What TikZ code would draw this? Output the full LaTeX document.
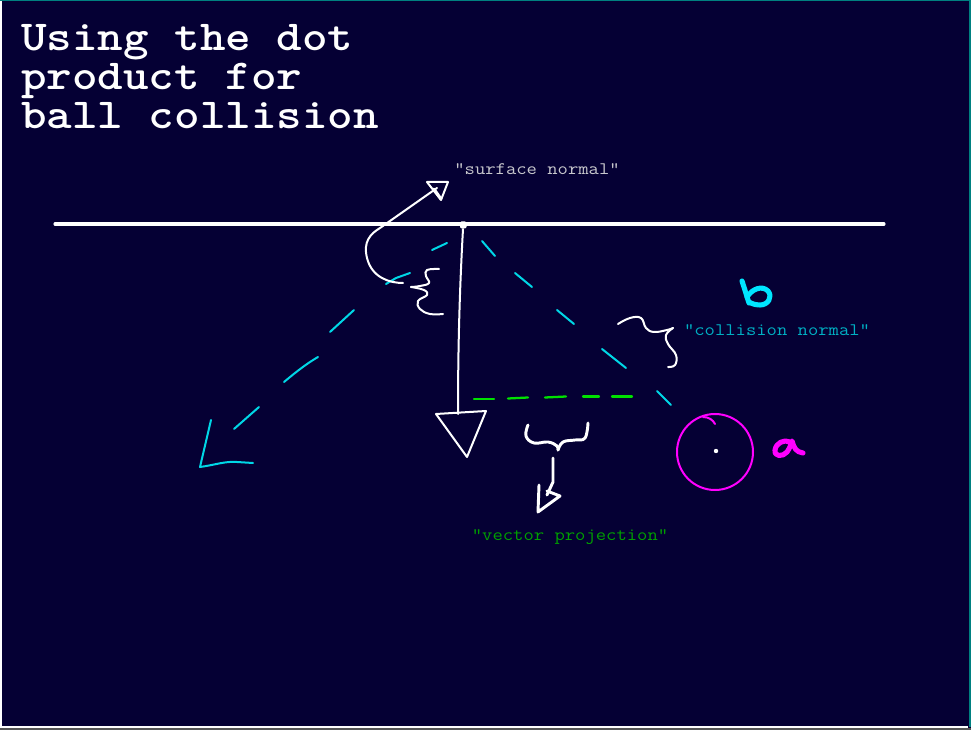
\documentclass[tikz,border=0pt]{standalone}
\usepackage{fontspec}
\usepackage{graphicx}
\definecolor{bgnavy}{RGB}{5,0,52}
\definecolor{tealedge}{RGB}{0,128,128}
\definecolor{greyedge}{RGB}{85,85,85}
\definecolor{dashcyan}{RGB}{0,215,230}
\definecolor{bcyan}{RGB}{0,230,255}
\definecolor{cntext}{RGB}{0,175,195}
\definecolor{dashgreen}{RGB}{0,225,0}
\definecolor{vptext}{RGB}{0,160,0}
\definecolor{sntext}{RGB}{200,200,205}
\definecolor{mag}{RGB}{255,0,255}
\newcommand{\widemono}[1]{\scalebox{1.14}[1]{#1}}
\begin{document}
\begin{tikzpicture}[x=0.75pt,y=-0.75pt,
  sketch/.style={draw=white,line width=1.5pt,line cap=round,line join=round},
  cdash/.style={draw=dashcyan,line width=1.5pt,line cap=round},
  gdash/.style={draw=dashgreen,line width=1.7pt,line cap=round},
  ttl/.style={anchor=north west,inner sep=0pt,text=white,align=left,font=\ttfamily\bfseries\fontsize{32}{29.2}\selectfont},
  lbl/.style={inner sep=0pt,font=\ttfamily\fontsize{13.2}{14}\selectfont}]
\useasboundingbox (0,0) rectangle (971,730);
% background and frame
\fill[bgnavy] (0,0) rectangle (971,730);
\fill[greyedge] (0,727.5) rectangle (971,730);
\draw[white,line width=0.9pt] (1,0) -- (1,727) -- (968,727);
\draw[tealedge,line width=0.9pt] (0,0.5) -- (971,0.5);
\draw[tealedge,line width=1.5pt] (969.5,0) -- (969.5,727);
% title
\node[ttl] (title) at (21,24) {\widemono{Using the dot}\\\widemono{product for}\\\widemono{ball collision}};
% surface
\draw[white,line width=2.3pt,line cap=round] (55,224) -- (884,224);
\fill[white,rounded corners=1pt] (460,221.5) rectangle (466.5,228.5);
% down arrow (surface normal vector)
\draw[sketch] (463,229) .. controls (459,300) and (458,360) .. (458,414);
\draw[sketch] (436,414) -- (486,411) -- (467,457) -- cycle;
% green dashed projection
\draw[gdash] (474,399) -- (494,399);
\draw[gdash] (508,398.5) -- (528,397.5);
\draw[gdash] (545,397.5) -- (566,396.5);
\draw[gdash] (583,396.5) -- (599,396.5);
\draw[gdash] (612,396.5) -- (632,396.5);
% cyan dashes towards ball
\draw[cdash] (482,241) -- (495,256);
\draw[cdash] (515,273) -- (532,287);
\draw[cdash] (557,310) -- (574,324);
\draw[cdash] (602,349) -- (626,368);
\draw[cdash] (657,391) -- (671,405);
% cyan dashes down-left
\draw[cdash] (432,250) -- (447,243);
\draw[cdash] (386,284) -- (396,278) -- (410,273);
\draw[cdash] (330,332) -- (354,310);
\draw[cdash] (284,382) .. controls (296,372) and (306,364) .. (318,357);
\draw[cdash] (234,429) -- (259,407);
\draw[cdash,line join=round] (211,420) -- (200,467) .. controls (215,465) and (225,461) .. (237,462) -- (253,463);
% surface normal curly arrow
\draw[sketch] (403,283) .. controls (390,283) and (372,278) .. (367,258)
  .. controls (363,242) and (370,234) .. (380,228) -- (437,188);
\draw[sketch] (427,182) -- (448,182) -- (441,200) -- cycle;
\draw[sketch,line width=2.2pt] (434,189) -- (441,199);
% brace near surface normal
\draw[sketch] plot[smooth,tension=0.7] coordinates {(439,269) (427,270) (426,276) (429,283) (420,286) (411,287)};
\draw[sketch] plot[smooth,tension=0.7] coordinates {(411,287) (424,290) (427,295) (418,301) (420,309) (430,314) (443,314)};
% collision normal brace
\draw[sketch] plot[smooth,tension=0.7] coordinates {(618,324) (630,318) (641,318) (646,328) (654,332) (667,330) (673,328)};
\draw[sketch] plot[smooth,tension=0.7] coordinates {(673,328) (666,335) (668,344) (676,355) (675,365) (668,367)};
% vector projection brace and arrow
\draw[sketch,line width=2.2pt] plot[smooth,tension=0.7] coordinates {(528,425) (526,436) (534,443) (548,442) (557,446) (558,450)};
\draw[sketch,line width=2.2pt] plot[smooth,tension=0.7] coordinates {(558,450) (563,442) (575,440) (585,438) (588,423)};
\draw[sketch,line width=2.2pt] (553,458) -- (553,482) -- (547,495);
\draw[sketch,line width=2.2pt] (539,485) -- (538,512) -- (560,496) -- (547,491);
% labels
\node[lbl,text=sntext] (sn) at (537,169) {\widemono{"surface normal"}};
\node[lbl,text=cntext] (cn) at (777,330) {\widemono{"collision normal"}};
\node[lbl,text=vptext] (vp) at (570,537) {\widemono{"vector projection"}};
% b
\draw[bcyan,line width=3.8pt,line cap=round,line join=round] (742,281) .. controls (745,290) and (747,297) .. (749,303);
\draw[bcyan,line width=3.8pt,line cap=round,line join=round] (747,297) .. controls (752,289) and (762,285) .. (768,291)
  .. controls (773,297) and (768,305) .. (760,305) .. controls (754,305) and (751,303) .. (749,302);
% ball
\draw[mag,line width=1.5pt] (715,452) ellipse [x radius=38,y radius=38];
\draw[mag,line width=1.5pt,line cap=round] (703,417) .. controls (709,417) and (713,420) .. (715,424);
\fill[white] (716,451) circle (2.2);
% a
\draw[mag,line width=3.8pt,line cap=round,line join=round] (790,442) .. controls (784,439) and (776,443) .. (775,450)
  .. controls (774,457) and (783,457) .. (787,452) .. controls (790,448) and (791,444) .. (792,441)
  .. controls (794,448) and (796,452) .. (803,453);
\end{tikzpicture}
\end{document}
